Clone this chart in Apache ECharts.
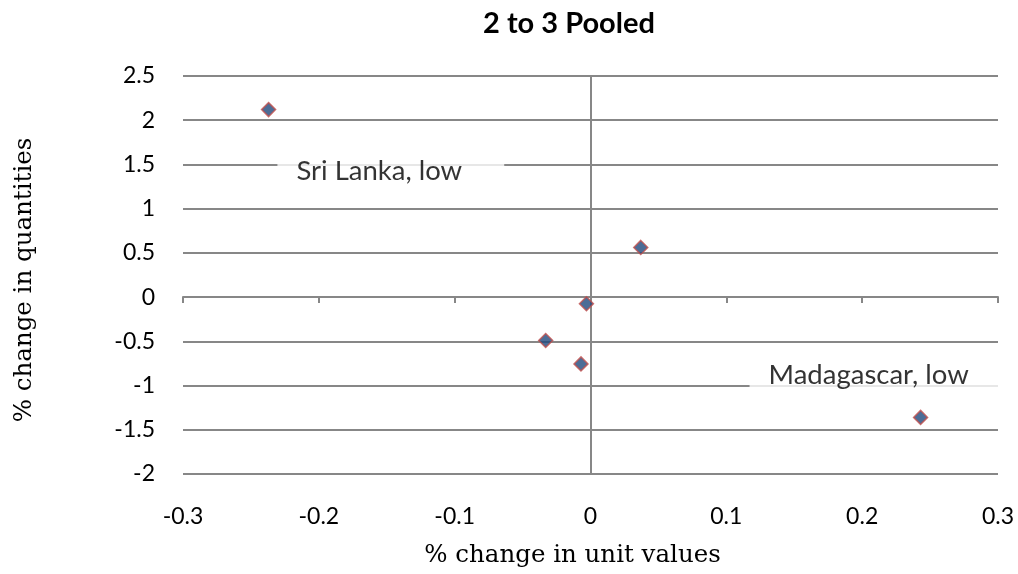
<!DOCTYPE html>
<html>
<head>
<meta charset="utf-8">
<script src="https://cdn.jsdelivr.net/npm/echarts@6/dist/echarts.min.js"></script>
<style>
  html, body { margin: 0; padding: 0; background: #fff; }
  #chart { width: 1018px; height: 574px; }
</style>
</head>
<body>
<div id="chart"></div>
<script>
// % change in unit values (x) and % change in quantities (y)
var unitValues = [-0.237, 0.037, -0.003, -0.033, -0.007, 0.243]
var quantities = [2.12, 0.562, -0.075, -0.49, -0.755, -1.36]
var annotations = [
  { text: 'Sri Lanka, low', x: -0.147, y: 1.43, pad: [3, 42, 3, 19] },
  { text: 'Madagascar, low', x: 0.2125, y: -0.885, pad: [3, 40, 3, 19] }
]

var points = unitValues.map(function (v, i) { return [v, quantities[i]] })
var gridColor = '#878787'
var labelFont = 'Lato, "Noto Sans", sans-serif'
var serifFont = '"DejaVu Serif", serif'

var chart = echarts.init(document.getElementById('chart'))
var option = {
  animation: false,
  title: {
    text: '2 to 3 Pooled',
    left: 564,
    top: 4,
    textAlign: 'center',
    textStyle: { fontSize: 29, fontWeight: 'bold', color: '#000', fontFamily: labelFont }
  },
  grid: { left: 183, right: 20, top: 76, bottom: 100 },
  xAxis: [
    {
      type: 'value', min: -0.3, max: 0.3, interval: 0.1,
      axisLine: { show: false, onZero: false },
      axisTick: { show: false },
      splitLine: { show: false },
      axisLabel: { color: '#000', fontSize: 23, fontFamily: labelFont, margin: 31 },
      name: '% change in unit values',
      nameLocation: 'middle',
      nameGap: 69,
      nameTextStyle: { fontSize: 24.5, color: '#000', fontFamily: serifFont, padding: [0, 36, 0, 0] }
    },
    {
      type: 'value', min: -0.3, max: 0.3, interval: 0.1, position: 'bottom',
      axisLine: { show: true, onZero: true, lineStyle: { color: gridColor, width: 2 } },
      axisTick: { show: true, length: 6, lineStyle: { color: gridColor, width: 2 } },
      axisLabel: { show: false },
      splitLine: { show: false }
    }
  ],
  yAxis: [
    {
      type: 'value', min: -2, max: 2.5, interval: 0.5,
      axisLine: { show: false, onZero: false },
      axisTick: { show: false },
      splitLine: { show: true, lineStyle: { color: gridColor, width: 2 } },
      axisLabel: { color: '#000', fontSize: 23, fontFamily: labelFont, margin: 28, padding: [6, 0, 0, 0] },
      name: '% change in quantities',
      nameLocation: 'middle',
      nameGap: 146,
      nameTextStyle: { fontSize: 24.5, color: '#000', fontFamily: serifFont, padding: [0, 10, 0, 0] }
    },
    {
      type: 'value', min: -2, max: 2.5, interval: 0.5, position: 'left',
      axisLine: { show: true, onZero: true, lineStyle: { color: gridColor, width: 2 } },
      axisTick: { show: true, length: 6, lineStyle: { color: gridColor, width: 2 } },
      axisLabel: { show: false },
      splitLine: { show: false }
    }
  ],
  series: [
    {
      type: 'scatter',
      data: points,
      symbol: 'diamond',
      symbolSize: 14,
      itemStyle: { color: '#1f497d', borderColor: '#c0504d', borderWidth: 1.5 },
      z: 5
    },
    {
      type: 'scatter',
      data: annotations.map(function (a) {
        return { value: [a.x, a.y], label: { formatter: a.text, padding: a.pad } }
      }),
      symbolSize: 0,
      silent: true,
      label: {
        show: true,
        position: 'inside',
        color: '#000',
        fontSize: 27.5,
        fontFamily: labelFont,
        backgroundColor: '#fff'
      },
      z: 4
    }
  ]
}
chart.setOption(option)
</script>
</body>
</html>
